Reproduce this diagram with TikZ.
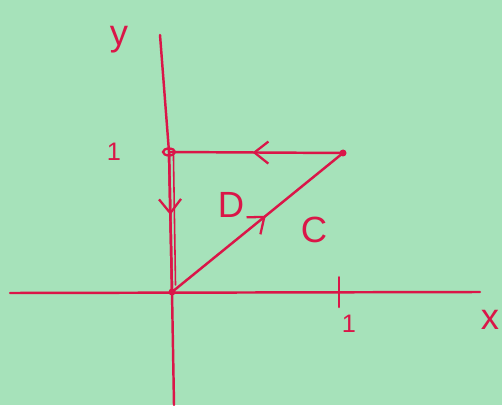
\documentclass[tikz,border=0pt]{standalone}
\usepackage{fontspec}
\setmainfont{Liberation Sans}
\usetikzlibrary{arrows.meta, decorations.markings}
\definecolor{cPaper}{RGB}{166,226,186}
\definecolor{cInk}{RGB}{218,22,72}
\tikzset{
    ink/.style      ={draw=cInk, line width=1.4pt, line cap=round, line join=round},
    axisline/.style ={ink},
    midarrow/.style ={postaction={decorate, decoration={markings,
        mark=at position #1 with {\arrow{Straight Barb[length=2.8mm, width=4.4mm, line width=1.3pt]}}}}},
    lbl/.style      ={text=cInk, inner sep=0pt, font=\Large},
}
\begin{document}
\begin{tikzpicture}[x=0.2mm, y=-0.2mm]
        % paper
        \fill[cPaper] (0,0) rectangle (502,405);
        \useasboundingbox (0,0) rectangle (502,405);
        % region corners
        \coordinate (O) at (172,292);
        \coordinate (A) at (343,153);
        \coordinate (B) at (169,152);
        % axes
        \coordinate (xl) at (10,293);
        \coordinate (xr) at (480,292);
        \coordinate (yt) at (160,35);
        \coordinate (yb) at (174,405);
        \draw[axisline] (xl) -- (xr);
        \draw[axisline] (yt) -- (B) -- (O) -- (yb);
        \coordinate (tick) at (339,293);
        \draw[ink] ([yshift=-8]tick) -- ([yshift=9]tick);
        \node[lbl, font=\huge] (ylab) at (119,40) {y};
        \node[lbl, font=\huge] (xlab) at (490,320) {x};
        \node[lbl] (one y) at (114,152) {1};
        \node[lbl] (one x) at (349,324) {1};
        % boundary of D
        \draw[ink, midarrow=0.55] (O) -- (A);
        \draw[ink, midarrow=0.52] (A) -- (B);
        \draw[ink, midarrow=0.45] (B) -- (O);
        \draw[cInk, line width=0.9pt, line cap=round] ([xshift=2.5pt]B) -- ([xshift=2pt,yshift=4pt]O);
        % points
        \fill[cInk] (A) circle (3.5);
        \draw[cInk, line width=1.3pt] (B) ellipse (6 and 3.5);
        \fill[cInk] (O) circle (3.5);
        % labels
        \node[lbl, font=\huge] (D) at (231,205) {D};
        \node[lbl, font=\huge] (C) at (314,230) {C};
    \end{tikzpicture}
\end{document}
